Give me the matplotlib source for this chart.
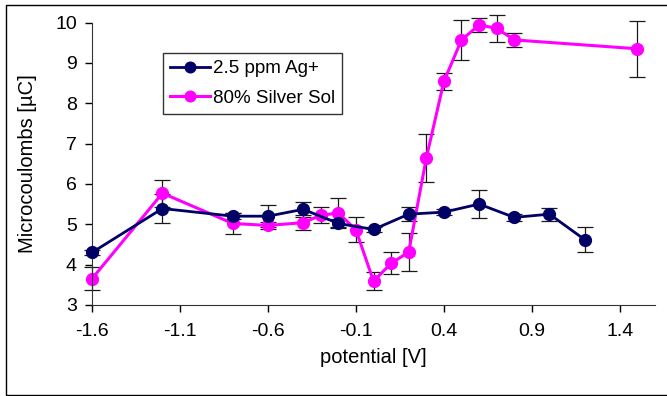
import matplotlib
matplotlib.use("Agg")
import matplotlib.pyplot as plt
from matplotlib.patches import Rectangle

plt.rcParams['font.family'] = ['Liberation Sans', 'DejaVu Sans']
plt.rcParams['axes.unicode_minus'] = False

# 2.5 ppm Ag+
ag_x = [-1.6, -1.2, -0.8, -0.6, -0.4, -0.2, 0.0, 0.2, 0.4, 0.6, 0.8, 1.0, 1.2]
ag_y = [4.30, 5.39, 5.20, 5.20, 5.37, 5.02, 4.87, 5.25, 5.30, 5.50, 5.17, 5.25, 4.62]
ag_err = [0.05, 0.35, 0.08, 0.27, 0.19, 0.10, 0.05, 0.18, 0.08, 0.34, 0.08, 0.16, 0.30]

# 80% Silver Sol
sol_x = [-1.6, -1.2, -0.8, -0.6, -0.4, -0.3, -0.2, -0.1, 0.0, 0.1, 0.2, 0.3, 0.4, 0.5, 0.6, 0.7, 0.8, 1.5]
sol_y = [3.65, 5.77, 5.02, 4.97, 5.04, 5.22, 5.28, 4.86, 3.59, 4.03, 4.31, 6.64, 8.54, 9.57, 9.94, 9.86, 9.57, 9.35]
sol_err = [0.29, 0.33, 0.25, 0.08, 0.18, 0.20, 0.37, 0.31, 0.22, 0.27, 0.47, 0.60, 0.21, 0.49, 0.17, 0.33, 0.18, 0.70]

xticks = [-1.6, -1.1, -0.6, -0.1, 0.4, 0.9, 1.4]
yticks = [3, 4, 5, 6, 7, 8, 9, 10]

fig = plt.figure(figsize=(6.67, 3.96), dpi=100)
ax = fig.add_axes([0.138, 0.230, 0.844, 0.713])

for xs, ys, es in [(ag_x, ag_y, ag_err), (sol_x, sol_y, sol_err)]:
    eb = ax.errorbar(xs, ys, yerr=es, fmt='none', ecolor='#1a1a1a',
                     elinewidth=0.9, capsize=6, capthick=0.9, zorder=1)
    for a in eb.get_children():
        a.set_clip_on(False)

l1, = ax.plot(ag_x, ag_y, color='#000066', lw=2.0, marker='o', ms=8.5,
              label='2.5 ppm Ag+', zorder=3, clip_on=False)
l2, = ax.plot(sol_x, sol_y, color='#ff00ff', lw=2.2, marker='o', ms=8.5,
              label='80% Silver Sol', zorder=2, clip_on=False)

ax.set_xlim(-1.6, 1.6)
ax.set_ylim(3, 10)
ax.set_xticks(xticks)
ax.set_xticklabels([f"{t:.1f}" for t in xticks])
ax.set_yticks(yticks)
ax.tick_params(direction='out', length=5, width=1, labelsize=14,
               colors='black')
ax.tick_params(axis='x', pad=8)
ax.tick_params(axis='y', pad=6)
for s in ['top', 'right']:
    ax.spines[s].set_visible(False)
for s in ['left', 'bottom']:
    ax.spines[s].set_color('#333333')
ax.set_xlabel('potential [V]', fontsize=14.5, labelpad=6)
ax.set_ylabel('Microcoulombs [µC]', fontsize=14.5, labelpad=13)

leg = ax.legend(loc='upper left', bbox_to_anchor=(0.126, 0.893), fontsize=13.5,
                frameon=True, fancybox=False, edgecolor='black',
                borderpad=0.4, borderaxespad=0, handlelength=2.1,
                handletextpad=0.15, labelspacing=0.65, markerscale=0.9)
leg.get_frame().set_linewidth(1)

fig.patches.append(Rectangle((6 / 667, 1 / 396), 1.0, 390 / 396,
                             transform=fig.transFigure, fill=False,
                             edgecolor='black', lw=1))

fig.savefig('out.png', dpi=100)
